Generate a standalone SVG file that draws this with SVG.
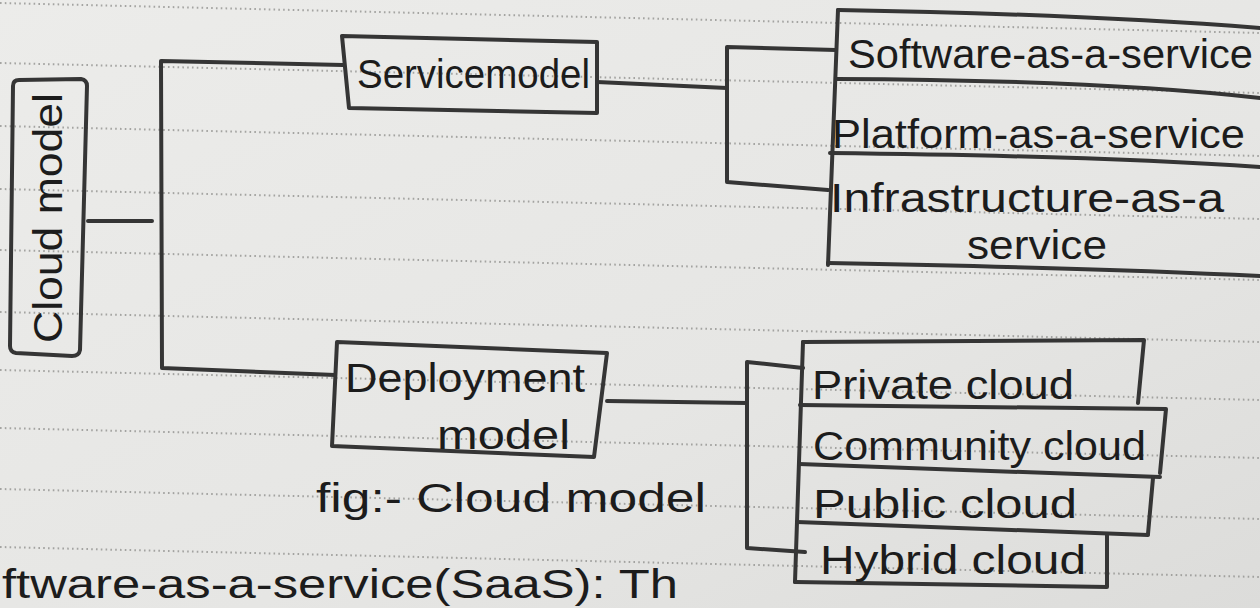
<svg xmlns="http://www.w3.org/2000/svg" width="1260" height="608" viewBox="0 0 1260 608">
  <defs>
    <linearGradient id="paper" x1="0" y1="0" x2="1" y2="1">
      <stop offset="0" stop-color="#ececea"/>
      <stop offset="0.6" stop-color="#e6e6e4"/>
      <stop offset="1" stop-color="#dcdcda"/>
    </linearGradient>
    <style>
      .rule { stroke: #8c8c8a; stroke-width: 2; stroke-dasharray: 1.6 3.2; fill: none; opacity: 0.75; }
      .ink { stroke: #353535; stroke-width: 4; fill: none; stroke-linecap: round; stroke-linejoin: round; }
      .hand { font-family: "Liberation Sans", "DejaVu Sans", sans-serif; fill: #1c1c1c; font-size: 40px; }
    </style>
  </defs>

  <!-- notebook page -->
  <rect x="0" y="0" width="1260" height="608" fill="url(#paper)"/>
  <g id="ruled-lines">
    <line class="rule" x1="0" y1="3" x2="1260" y2="33"/>
    <line class="rule" x1="0" y1="63" x2="1260" y2="93"/>
    <line class="rule" x1="0" y1="126" x2="1260" y2="156"/>
    <line class="rule" x1="0" y1="189" x2="1260" y2="219"/>
    <line class="rule" x1="0" y1="250" x2="1260" y2="280"/>
    <line class="rule" x1="0" y1="312" x2="1260" y2="342"/>
    <line class="rule" x1="0" y1="370" x2="1260" y2="400"/>
    <line class="rule" x1="0" y1="428" x2="1260" y2="458"/>
    <line class="rule" x1="0" y1="489" x2="1260" y2="519"/>
    <line class="rule" x1="0" y1="547" x2="1260" y2="577"/>
  </g>

  <!-- connectors -->
  <g id="connectors">
    <path class="ink" d="M88,221 L152,221"/>
    <path class="ink" d="M343,65 L161,61 L162,368 L335,375"/>
    <path class="ink" d="M597,82 L727,88"/>
    <path class="ink" d="M836,50 L727,47 L727,182 L828,190"/>
    <path class="ink" d="M607,401 L747,403"/>
    <path class="ink" d="M803,368 L747,362 L747,548 L805,552"/>
  </g>

  <!-- root -->
  <g id="cloud-model">
    <path class="ink" d="M19,80 L81,79 Q87,80 87,86 L80,350 Q79,356 72,356 L16,353 Q10,352 10,346 L13,86 Q13,80 19,80 Z"/>
    <text class="hand" transform="translate(62,343) rotate(-90)" x="0" y="0" font-size="42" textLength="250" lengthAdjust="spacingAndGlyphs">Cloud model</text>
  </g>

  <!-- service model branch -->
  <g id="service-model">
    <path class="ink" d="M342,36 L597,42 L597,113 L349,108 Z"/>
    <text class="hand" x="357" y="88" font-size="42" textLength="233" lengthAdjust="spacingAndGlyphs">Servicemodel</text>
  </g>

  <g id="service-types">
    <path class="ink" d="M838,10 L828,265"/>
    <path class="ink" d="M838,10 Q1080,14 1260,28"/>
    <path class="ink" d="M836,79 Q1100,80 1260,98"/>
    <path class="ink" d="M830,153 Q1100,156 1260,167"/>
    <path class="ink" d="M828,263 Q1100,268 1260,276"/>
  </g>
  <g id="saas">
    <text class="hand" x="848" y="68" textLength="405" lengthAdjust="spacingAndGlyphs">Software-as-a-service</text>
  </g>
  <g id="paas">
    <text class="hand" x="832" y="148" font-size="42" textLength="413" lengthAdjust="spacingAndGlyphs">Platform-as-a-service</text>
  </g>
  <g id="iaas">
    <text class="hand" x="830" y="212" textLength="394" lengthAdjust="spacingAndGlyphs">Infrastructure-as-a</text>
    <text class="hand" x="967" y="259" textLength="140" lengthAdjust="spacingAndGlyphs">service</text>
  </g>

  <!-- deployment model branch -->
  <g id="deployment-model">
    <path class="ink" d="M337,342 L607,353 L594,457 L332,446 Z"/>
    <text class="hand" x="345" y="392" textLength="240" lengthAdjust="spacingAndGlyphs">Deployment</text>
    <text class="hand" x="437" y="449" textLength="133" lengthAdjust="spacingAndGlyphs">model</text>
  </g>

  <g id="deployment-types">
    <path class="ink" d="M803,342 L795,582"/>
    <path class="ink" d="M803,342 L1144,340 L1138,403"/>
    <path class="ink" d="M800,405 L1166,409 L1160,473"/>
    <path class="ink" d="M799,464 L1160,477"/>
    <path class="ink" d="M1153,478 L1148,534"/>
    <path class="ink" d="M797,522 L1148,535"/>
    <path class="ink" d="M1107,535 L1107,587 L795,582"/>
  </g>
  <g id="private-cloud">
    <text class="hand" x="812" y="399" textLength="262" lengthAdjust="spacingAndGlyphs">Private cloud</text>
  </g>
  <g id="community-cloud">
    <text class="hand" x="813" y="460" textLength="333" lengthAdjust="spacingAndGlyphs">Community cloud</text>
  </g>
  <g id="public-cloud">
    <text class="hand" x="813" y="518" textLength="264" lengthAdjust="spacingAndGlyphs">Public cloud</text>
  </g>
  <g id="hybrid-cloud">
    <text class="hand" x="820" y="574" textLength="266" lengthAdjust="spacingAndGlyphs">Hybrid cloud</text>
  </g>

  <!-- caption and the start of the following paragraph -->
  <text class="hand" x="316" y="512" font-size="42" textLength="390" lengthAdjust="spacingAndGlyphs">fig:- Cloud model</text>
  <text class="hand" x="2" y="598" font-size="36" textLength="676" lengthAdjust="spacingAndGlyphs">ftware-as-a-service(SaaS): Th</text>
</svg>
